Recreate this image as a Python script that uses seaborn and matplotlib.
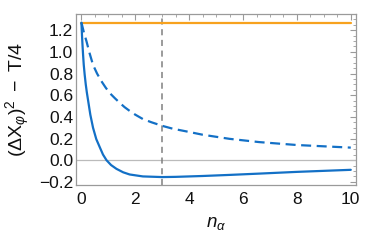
import numpy as np
import pandas as pd
import matplotlib
matplotlib.use("Agg")
import matplotlib.pyplot as plt
import seaborn as sns
from matplotlib.ticker import MultipleLocator

sns.set_style("white")
plt.rcParams['font.family'] = ['Liberation Sans', 'DejaVu Sans']
plt.rcParams['mathtext.fontset'] = 'custom'
plt.rcParams['mathtext.rm'] = 'Liberation Sans'
plt.rcParams['mathtext.it'] = 'Liberation Sans:italic'
plt.rcParams['mathtext.bf'] = 'Liberation Sans:bold'

# data
solid_n = [0, 0.02, 0.04, 0.06, 0.086, 0.12, 0.16, 0.2, 0.25, 0.33, 0.43, 0.55, 0.68,
           0.8, 0.93, 1.1, 1.3, 1.55, 1.79, 2.28, 3.0, 3.5, 4.5, 5.5, 6.6, 8.0, 10.0]
solid_y = [1.27, 1.155, 1.06, 0.976, 0.88, 0.79, 0.70, 0.626, 0.547, 0.42, 0.30, 0.195,
           0.12, 0.052, 0.0, -0.045, -0.08, -0.112, -0.132, -0.150, -0.156, -0.154,
           -0.146, -0.136, -0.124, -0.108, -0.089]
dashed_n = [0, 0.05, 0.1, 0.185, 0.3, 0.43, 0.58, 0.74, 0.9, 1.05, 1.25, 1.42, 1.6,
            1.79, 2.0, 2.28, 2.6, 3.0, 3.4, 3.89, 4.5, 5.5, 6.6, 8.0, 10.0]
dashed_y = [1.27, 1.22, 1.17, 1.10, 0.99, 0.88, 0.80, 0.73, 0.67, 0.62, 0.57, 0.53,
            0.49, 0.455, 0.42, 0.38, 0.35, 0.317, 0.29, 0.266, 0.235, 0.197, 0.167,
            0.14, 0.116]
flat_n = [0, 10]
flat_y = [1.27, 1.27]
vline_x = 3

blue = '#1370C6'
orange = '#F7A21E'
frame = '#9A9A9A'

fig = plt.figure(figsize=(3.71, 2.41), dpi=100)
ax = fig.add_axes([0.205, 0.232, 0.755, 0.710])

ax.axhline(0, color='#BBBBBB', lw=0.9, zorder=1)
ax.axvline(vline_x, color='#808080', lw=1.1, ls=(0, (4, 3)), zorder=1)

sns.lineplot(x=flat_n, y=flat_y, ax=ax, color=orange, lw=1.6, zorder=3)
sns.lineplot(x=dashed_n, y=dashed_y, ax=ax, color=blue, lw=1.6, ls=(0, (4.5, 2.5)), zorder=3)
sns.lineplot(x=solid_n, y=solid_y, ax=ax, color=blue, lw=1.6, zorder=3)

ax.set_xlim(-0.2, 10.2)
ax.set_ylim(-0.23, 1.35)
ax.xaxis.set_major_locator(MultipleLocator(2))
ax.xaxis.set_minor_locator(MultipleLocator(0.5))
ax.yaxis.set_minor_locator(MultipleLocator(0.05))
ax.set_yticks([-0.2, 0.0, 0.2, 0.4, 0.6, 0.8, 1.0, 1.2])
ax.set_yticklabels(['\u22120.2', '0.0', '0.2', '0.4', '0.6', '0.8', '1.0', '1.2'])

for s in ax.spines.values():
    s.set_color(frame)
    s.set_linewidth(0.9)
    s.set_visible(True)

ax.tick_params(which='both', direction='in', top=True, right=True, color=frame,
               labelsize=12.5, labelcolor='#111111')
ax.tick_params(axis='x', pad=5)
ax.tick_params(axis='y', pad=2)
ax.tick_params(which='major', length=4, width=0.8)
ax.tick_params(which='minor', length=2, width=0.6)

ax.set_xlabel(r'$n_{\alpha}$', fontsize=13.5, color='#111111', labelpad=6)
ax.set_ylabel(r'$(\Delta\mathrm{X}_{\varphi})^2\ -\ \mathrm{T}/4$', fontsize=14,
              color='#111111', labelpad=5)

fig.savefig('out.png', dpi=100)
